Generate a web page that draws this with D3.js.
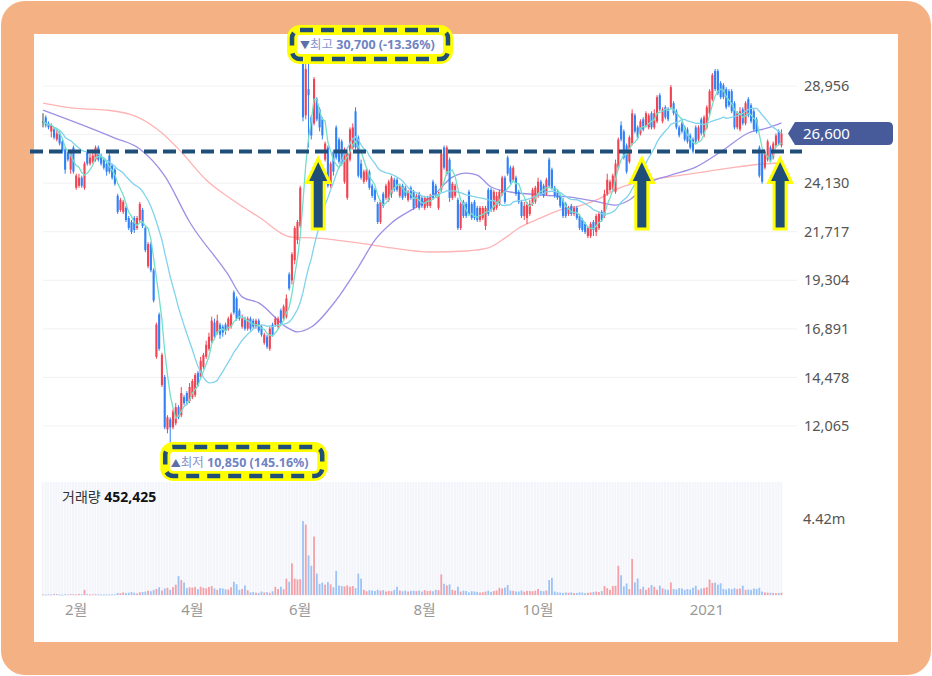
<!DOCTYPE html>
<html>
<head>
<meta charset="utf-8">
<script src="https://cdn.jsdelivr.net/npm/d3@7"></script>
<style>
  html, body { margin: 0; padding: 0; background: #fff; }
  svg { display: block; font-family: "Noto Sans", "Noto Sans CJK KR", sans-serif; }
</style>
</head>
<body>
<svg id="chart" width="932" height="676"></svg>
<script>
/* daily candles, one entry per trading day (won) */
var opens = [
  27200,27400,27100,26700,26800,26300,26600,26200,25800,25700,
  24800,25900,23900,24000,24400,23900,25700,25100,25200,25300,
  25900,25500,25300,25100,25500,25000,24800,23500,22800,22700,
  22900,22400,22200,22400,21900,22300,22800,21900,20000,21100,
  19800,15500,17600,14100,14500,11900,12400,12000,12200,13000,
  12600,13500,13700,13300,13500,13600,14700,14500,15000,15500,
  15900,16300,17200,16700,17100,17000,17100,16900,17000,18700,
  18400,17800,17000,17400,16900,17400,17300,17000,17300,17000,
  16200,16500,15900,17100,17100,17000,17800,17400,17500,19600,
  19300,20300,21300,22000,30200,27500,28800,27400,27100,28300,
  27800,27300,25300,25900,24000,25700,26900,26300,26200,24200,
  23400,25300,25900,27700,26400,25100,24200,24300,24700,24000,
  23800,23100,22200,23600,23400,23300,23600,24300,24300,23500,
  24000,23900,23300,23900,23700,23000,23600,23400,22900,23000,
  23000,24200,24000,22900,23800,25900,24600,25300,23400,23500,
  23300,21900,23200,23100,23700,23100,23200,22900,22300,22400,
  22000,23800,23800,22800,22900,23100,23600,24400,25400,24900,
  24300,24400,23700,23200,22500,22400,22600,23100,23200,23500,
  24200,24000,23600,25300,24800,23900,23700,23500,23300,23100,
  22600,23000,22600,22900,22500,22300,22100,21500,21500,22200,
  21700,21900,22700,22500,23600,23800,23800,23700,24900,27000,
  26700,26000,25200,26100,27500,26900,26600,27300,27000,26900,
  27600,26900,27200,28500,27200,27900,27800,27900,28100,27700,
  26900,27100,26900,26800,26500,26300,26900,26300,27300,26500,
  26900,27600,28300,29700,29700,29100,29000,28800,28700,28700,
  28100,26900,26800,27800,27100,28300,28000,27700,27300,25900,
  25600,24900,25300,25900,25400,26000,26700,26000
];
var highs = [
  27600,27500,27200,27100,26900,26800,26700,26300,25900,25800,
  25800,26000,24600,24600,24500,25200,25800,25600,25800,26000,
  26000,25600,25400,25200,25600,25100,24900,23600,23400,23300,
  23000,22500,22300,22500,22500,23200,22900,22000,21200,21200,
  19900,17200,17700,15700,14600,12600,12500,12900,13200,13100,
  14000,13600,13800,14200,14400,14700,14800,15500,15700,16300,
  16700,17500,17400,17600,17200,17100,17200,17500,17700,18800,
  18500,17900,17600,17500,17500,17500,17400,17400,17400,17100,
  16700,16600,17000,17200,17500,17500,17900,18100,18600,19700,
  20700,22000,22300,24000,30700,30300,30200,27500,29400,28400,
  27900,27400,26200,26000,25200,25800,27000,26400,26300,25900,
  25800,26900,27100,27900,26500,25300,24800,24900,24800,24100,
  23900,23200,23300,23700,24100,24300,24500,24400,24400,24100,
  24100,24000,23800,24000,23800,23600,23700,23500,23500,23500,
  23600,24300,24100,23700,25700,26000,26000,25400,24200,24100,
  23400,23200,23300,23200,23800,23200,23300,23000,23000,23000,
  23000,23900,23900,23800,23700,23800,24500,24500,25500,25000,
  25000,24500,23800,23300,23200,23200,23300,23900,24000,24400,
  24300,24100,24400,25400,24900,24000,23800,23600,23400,23200,
  23000,23100,23000,23000,22600,22400,22200,22000,22200,22300,
  22600,22700,22800,23800,24600,24300,24600,25300,26400,27200,
  26800,26100,26500,27800,27600,27000,27300,27400,27700,27600,
  27700,27800,28500,28600,27900,28000,27900,29000,28200,27800,
  27000,27200,27000,26900,26600,26400,27000,27000,27400,27500,
  28000,28800,29600,29800,29800,29200,29100,28900,28800,28800,
  28200,27700,27900,27900,28200,28400,28100,27800,27400,26000,
  25700,25800,26300,26000,26200,26600,26800,26800
];
var lows = [
  26900,26900,26800,26400,26300,26200,26000,25600,24600,25200,
  24600,24600,23800,23900,23900,23800,25000,25000,25100,25200,
  25200,25000,24800,24500,24600,24300,24000,22600,22700,22600,
  22200,21800,21600,21650,21800,22200,21900,20700,19900,19700,
  18200,15400,15800,14000,11900,11700,10850,11900,12100,12400,
  12500,13100,13100,13200,13400,13500,14000,14400,14900,15400,
  15800,16200,16400,16600,16400,16500,16600,16800,16900,17600,
  17300,17300,16900,16800,16800,16800,16900,16900,16700,16500,
  16100,15900,15800,16500,17000,16900,17100,17300,17400,18800,
  19100,20100,21100,21900,27200,27300,25900,26300,27000,27200,
  26700,26300,25200,23900,23900,24500,25300,25100,25000,24100,
  23300,25200,25800,25800,24400,24300,24100,24200,23800,23400,
  23200,22100,22100,22900,23300,23200,23400,23700,23700,23400,
  23300,23400,23200,23300,22800,22900,22800,22900,22800,22900,
  22900,23300,23400,22800,23700,24800,24500,23200,23300,23400,
  21800,21800,22400,22400,22500,22300,22300,22200,22200,22300,
  21800,22500,22700,22700,22800,23000,23500,23100,24500,24100,
  24200,23500,23100,22400,22300,22100,22500,23000,23100,23400,
  23500,23400,23500,23900,23800,23400,23300,22900,22400,22400,
  22500,22500,22500,22300,21800,21700,21600,21400,21400,21500,
  21500,21800,22200,22400,23500,23700,23700,23600,24800,26200,
  25300,24600,25100,26000,26600,26300,26500,26700,26900,26800,
  26800,26800,27100,27700,27100,27300,27200,27800,27500,26800,
  26400,26600,26200,26100,25800,25600,26100,26200,26500,26400,
  26800,27500,28200,28700,28500,28300,28300,27800,27900,27600,
  26800,26800,26700,27000,27000,27400,27100,26700,26600,24400,
  24100,24800,25200,25200,25300,25900,26000,25900
];
var closes = [
  27200,27000,26900,27000,26400,26600,26100,25700,24800,25300,
  25700,24700,24500,24400,24000,25100,25100,25400,25500,25900,
  25300,25100,24900,24700,24700,24400,24100,22700,23300,23200,
  22300,21900,21700,21800,22400,23100,22000,20800,21100,19800,
  18300,17100,15900,15600,12000,12500,12000,12800,13000,12500,
  13700,13200,13300,14000,14300,14600,14100,15300,15600,16100,
  16500,17300,16500,17300,16600,16700,16800,17400,17600,17700,
  17400,17400,17400,16900,17400,16900,17000,17300,16800,16600,
  16600,16000,16900,16600,17400,17400,17200,18000,18400,18900,
  20600,21900,22200,23900,27400,29800,28500,26500,29300,27300,
  26900,26500,26100,24000,25100,24700,25400,25200,25100,25800,
  25600,26800,26900,25900,24500,24400,24700,24800,23900,23500,
  23300,22200,23200,23000,24000,24200,24400,23800,23800,24000,
  23400,23500,23700,23400,22900,23500,22900,23000,23400,23400,
  23500,23400,23500,23600,25600,24900,25900,23400,24100,24000,
  21900,23100,22500,22500,22600,22400,22400,22300,22900,22900,
  22900,22600,22800,23700,23500,23700,24400,23200,24600,24200,
  24900,23600,23200,22500,23000,23100,23100,23800,23900,24200,
  23600,23500,24300,24000,23900,23500,23400,23000,22500,22500,
  22900,22600,22900,22400,21900,21800,21700,21900,22100,21800,
  22500,22600,22300,23600,24300,24200,24500,25100,26300,26300,
  25400,24700,26400,27600,26700,26400,27200,26800,27600,27500,
  26900,27600,28400,27800,27800,27400,27300,28900,27600,26900,
  26500,26700,26300,26200,25900,25700,26200,26900,26600,27400,
  27900,28700,29500,28800,28600,28400,28400,27900,28000,27700,
  26900,27600,27700,27100,28100,27500,27200,26800,26700,24500,
  24200,25700,26200,25300,26100,26500,26100,26600
];
/* volume, thousands of shares */
var volumes = [
  30,20,40,25,60,50,30,20,40,30,
  50,40,30,60,40,300,50,30,40,35,
  40,30,25,40,30,35,40,120,100,150,
  110,130,170,130,90,160,180,200,250,220,
  300,350,450,260,380,420,300,460,600,1100,
  870,730,400,450,430,470,340,480,420,380,
  460,520,380,300,400,380,330,320,450,770,
  630,300,350,550,280,150,170,140,120,200,
  150,170,130,220,480,350,480,330,950,770,
  1840,950,900,920,4300,4100,2300,1700,3400,1250,
  650,720,600,750,620,450,1400,550,520,500,
  560,480,520,400,1250,950,300,220,280,260,
  230,300,250,280,200,240,220,300,480,260,
  220,260,200,240,250,230,260,200,280,230,
  250,220,300,280,1200,650,560,620,300,260,
  480,200,250,230,150,220,200,180,140,160,
  200,250,180,230,260,420,380,430,580,260,
  240,210,200,260,190,240,230,220,250,350,
  240,220,260,870,1000,200,150,140,120,150,
  130,150,110,120,160,140,110,130,150,180,
  200,170,230,520,400,300,520,540,1700,1150,
  500,670,350,2100,730,960,350,480,300,420,
  580,480,300,540,390,330,300,730,350,320,
  400,380,300,350,320,420,540,300,380,410,
  450,900,700,720,600,680,350,320,380,340,
  400,350,380,540,300,320,300,380,350,420,
  200,150,140,130,120,100,110,130
];
var lastVolume = 452425;

/* 60 and 120 day averages (day index, won) */
var ma60Idx = [0,26,35,44,53,67,72,78,88,92,97,106,114,120,126,135,142,148,153,157,162,169,181,193,201,207,212,219,227,236,246,255,262,267];
var ma60Val = [27760,26370,25830,24490,22200,19570,18480,18180,16980,16740,16980,18320,19960,21300,22150,22950,23640,24430,24630,24530,23940,23690,23540,23390,23190,23040,23290,24140,24530,24930,25780,26620,26870,27120];
var ma120Idx = [0,11,23,34,43,50,59,67,78,90,99,114,126,140,153,161,167,172,180,187,194,201,207,214,224,236,248,260,267];
var ma120Val = [28110,27860,27760,27420,26620,25680,24290,23440,22450,21450,21400,21160,20910,20710,20760,20910,21400,21900,22400,22800,23000,23350,23800,24140,24390,24630,24880,25080,25130];

var priceTicks = [12065,14478,16891,19304,21717,24130,26543,28956];
var volumeTick = 4420;
var volumeTickLabel = "4.42m";
var monthIdx = [12, 54, 93, 138, 179, 240];
var monthLabels = ["2월", "4월", "6월", "8월", "10월", "2021"];

/* annotations drawn on top of the chart */
var supportLevel = 25700;
var arrowIdx = [99.5, 216.5, 266.5];

var upColor = "#f04452", downColor = "#3182f6", flatColor = "#444";
var navy = "#1f4e79", yellow = "#ffff00";

var svg = d3.select("#chart");

/* frame */
svg.append("rect").attr("x", 1).attr("y", 1).attr("width", 930).attr("height", 674)
  .attr("rx", 24).attr("fill", "#f4b183");
svg.append("rect").attr("x", 34).attr("y", 34).attr("width", 864).attr("height", 608)
  .attr("fill", "#fff");

var n = closes.length;
var x = d3.scaleLinear().domain([0, n - 1]).range([43, 781.5]);
var step = x(1) - x(0);
var y = d3.scaleLinear().domain([priceTicks[0], priceTicks[priceTicks.length - 1]]).range([426, 86]);
var yv = d3.scaleLinear().domain([0, volumeTick]).range([595, 519]);
var fmt = d3.format(",");

var idx = d3.range(n);
function colorOf(i) {
  if (closes[i] > opens[i]) return upColor;
  if (closes[i] < opens[i]) return downColor;
  return flatColor;
}

/* grid */
svg.append("g").selectAll("line")
  .data(priceTicks)
  .enter().append("line")
  .attr("x1", 43).attr("x2", 797)
  .attr("y1", function(d) { return y(d); })
  .attr("y2", function(d) { return y(d); })
  .attr("stroke", "#f0f1f5").attr("stroke-width", 1);

/* price axis labels */
svg.append("g").selectAll("text")
  .data(priceTicks)
  .enter().append("text")
  .attr("x", 804)
  .attr("y", function(d) { return y(d); })
  .attr("dy", "0.35em")
  .attr("font-size", "14.5px")
  .attr("fill", "#555")
  .text(function(d) { return fmt(d); });

/* volume panel */
var vg = svg.append("g");
vg.selectAll("rect.bg")
  .data(idx)
  .enter().append("rect")
  .attr("class", "bg")
  .attr("x", function(i) { return x(i) - step / 2; })
  .attr("y", 482)
  .attr("width", step - 0.6)
  .attr("height", 114)
  .attr("fill", "#f3f5fb");

vg.selectAll("rect.vol")
  .data(idx)
  .enter().append("rect")
  .attr("class", "vol")
  .attr("x", function(i) { return x(i) - 0.9; })
  .attr("width", 1.8)
  .attr("y", function(i) { return yv(volumes[i]); })
  .attr("height", function(i) { return Math.max(0.8, yv(0) - yv(volumes[i])); })
  .attr("fill", function(i) { return closes[i] >= opens[i] ? "#f4a0a6" : "#9cc3f5"; });

var volLabel = svg.append("text").attr("x", 62).attr("y", 502).attr("font-size", "14px");
volLabel.append("tspan").attr("fill", "#333").text("거래량 ");
volLabel.append("tspan").attr("fill", "#111").attr("font-weight", "bold").text(fmt(lastVolume));

svg.append("text").attr("x", 803).attr("y", yv(volumeTick)).attr("dy", "0.35em")
  .attr("font-size", "14.5px").attr("fill", "#555").text(volumeTickLabel);

/* month labels */
svg.append("g").selectAll("text")
  .data(monthIdx)
  .enter().append("text")
  .attr("x", function(d) { return x(d); })
  .attr("y", 610)
  .attr("dy", "0.35em")
  .attr("text-anchor", "middle")
  .attr("font-size", "15px")
  .attr("fill", "#999")
  .text(function(d, k) { return monthLabels[k]; });

/* moving averages */
function movingAvg(len) {
  return idx.map(function(i) {
    var s = Math.max(0, i - len + 1);
    return d3.mean(closes.slice(s, i + 1));
  });
}
var ma5 = movingAvg(5), ma20 = movingAvg(20);

var lineIdx = d3.line()
  .x(function(d) { return x(d[0]); })
  .y(function(d) { return y(d[1]); });
var lineSmooth = d3.line()
  .x(function(d) { return x(d[0]); })
  .y(function(d) { return y(d[1]); })
  .curve(d3.curveMonotoneX);

var lg = svg.append("g").attr("fill", "none").attr("stroke-width", 1.3);
lg.append("path").attr("d", lineSmooth(ma120Idx.map(function(d, k) { return [d, ma120Val[k]]; })))
  .attr("stroke", "#ffb3b3");
lg.append("path").attr("d", lineSmooth(ma60Idx.map(function(d, k) { return [d, ma60Val[k]]; })))
  .attr("stroke", "#9d90e6");

/* candles */
var cg = svg.append("g");
cg.selectAll("line")
  .data(idx)
  .enter().append("line")
  .attr("x1", function(i) { return x(i); })
  .attr("x2", function(i) { return x(i); })
  .attr("y1", function(i) { return y(highs[i]); })
  .attr("y2", function(i) { return y(lows[i]); })
  .attr("stroke", colorOf)
  .attr("stroke-width", 1);
cg.selectAll("rect")
  .data(idx)
  .enter().append("rect")
  .attr("x", function(i) { return x(i) - 1.05; })
  .attr("width", 2.1)
  .attr("y", function(i) { return y(Math.max(opens[i], closes[i])); })
  .attr("height", function(i) { return Math.max(1, Math.abs(y(opens[i]) - y(closes[i]))); })
  .attr("fill", colorOf);

lg = svg.append("g").attr("fill", "none").attr("stroke-width", 1.3);
lg.append("path").attr("d", lineIdx(idx.map(function(i) { return [i, ma20[i]]; })))
  .attr("stroke", "#7fd3ec");
lg.append("path").attr("d", lineIdx(idx.map(function(i) { return [i, ma5[i]]; })))
  .attr("stroke", "#72dfc6");

/* high / low labels */
var hiI = d3.maxIndex(highs), loI = d3.minIndex(lows);
var last = closes[n - 1];
function pct(v) { return v.toFixed(2); }

function markBox(x0, y0, w, h) {
  svg.append("rect").attr("x", x0).attr("y", y0).attr("width", w).attr("height", h)
    .attr("rx", 8).attr("fill", "#fff").attr("stroke", yellow).attr("stroke-width", 10);
  svg.append("rect").attr("x", x0).attr("y", y0).attr("width", w).attr("height", h)
    .attr("rx", 8).attr("fill", "none").attr("stroke", navy).attr("stroke-width", 4.5)
    .attr("stroke-dasharray", "13,8");
}

markBox(x(hiI) - 11, 30, 156, 29);
var hiT = svg.append("text").attr("x", x(hiI) - 3).attr("y", 49).attr("font-size", "12.5px");
hiT.append("tspan").attr("fill", "#5d6fa8").attr("font-size", "10px").text("▼");
hiT.append("tspan").attr("fill", "#8794c9").text("최고 ");
hiT.append("tspan").attr("fill", "#6f83c4").attr("font-weight", "bold")
  .text(fmt(highs[hiI]) + " (" + pct((last - highs[hiI]) / highs[hiI] * 100) + "%)");

markBox(x(loI) - 5, 447, 157, 29);
var loT = svg.append("text").attr("x", x(loI) + 0.5).attr("y", 467).attr("font-size", "12.5px");
loT.append("tspan").attr("fill", "#5d6fa8").attr("font-size", "10px").text("▲");
loT.append("tspan").attr("fill", "#8794c9").text("최저 ");
loT.append("tspan").attr("fill", "#6f83c4").attr("font-weight", "bold")
  .text(fmt(lows[loI]) + " (" + pct((last - lows[loI]) / lows[loI] * 100) + "%)");

/* current price flag */
var ly = y(last);
svg.append("path")
  .attr("d", "M788," + ly + " L795," + (ly - 11.5) + " L888," + (ly - 11.5) +
    " Q893," + (ly - 11.5) + " 893," + (ly - 6.5) + " L893," + (ly + 6.5) +
    " Q893," + (ly + 11.5) + " 888," + (ly + 11.5) + " L795," + (ly + 11.5) + " Z")
  .attr("fill", "#475b9b");
svg.append("text").attr("x", 803).attr("y", ly).attr("dy", "0.35em")
  .attr("font-size", "15px").attr("fill", "#fff").text(fmt(last));

/* support line and arrows */
var sy = y(supportLevel);
svg.append("line").attr("x1", 30).attr("x2", 802).attr("y1", sy).attr("y2", sy)
  .attr("stroke", navy).attr("stroke-width", 4).attr("stroke-dasharray", "13,6");

svg.append("g").selectAll("path")
  .data(arrowIdx)
  .enter().append("path")
  .attr("d", function(d) {
    var cx = x(d), tip = sy + 7, base = tip + 24, bottom = 229;
    return "M" + cx + "," + tip + " L" + (cx + 11.5) + "," + base + " L" + (cx + 6) + "," + base +
      " L" + (cx + 6) + "," + bottom + " L" + (cx - 6) + "," + bottom + " L" + (cx - 6) + "," + base +
      " L" + (cx - 11.5) + "," + base + " Z";
  })
  .attr("fill", navy)
  .attr("stroke", yellow)
  .attr("stroke-width", 3)
  .attr("stroke-linejoin", "miter");
</script>
</body>
</html>
